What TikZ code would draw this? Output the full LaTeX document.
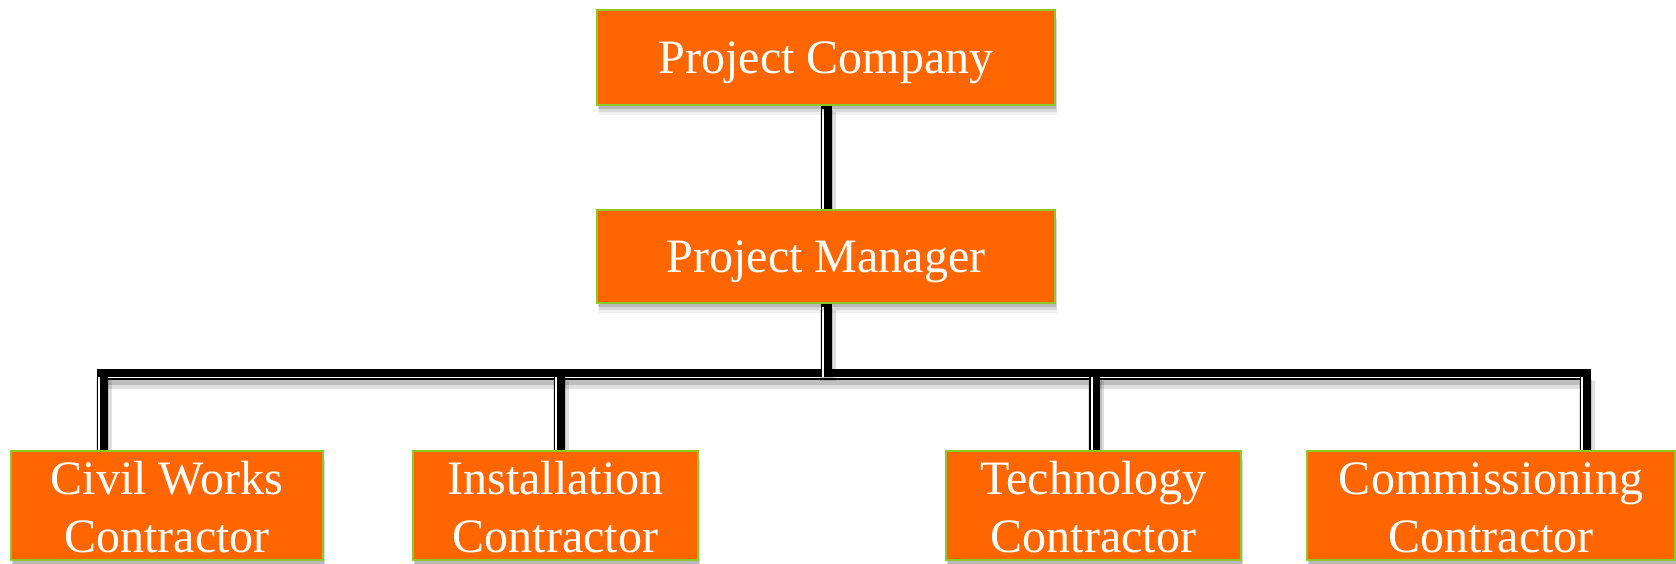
\documentclass[tikz,border=0pt]{standalone}
\usepackage{fontspec}
\setmainfont{Liberation Serif}
\usetikzlibrary{shadows}
\pgfdeclarelayer{bg}
\pgfsetlayers{bg,main}
\definecolor{boxorange}{RGB}{255,102,0}
\definecolor{boxgreen}{RGB}{140,200,40}
\begin{document}
\begin{tikzpicture}[x=0.5pt,y=-0.5pt,
  orgbox/.style={draw=boxgreen, line width=1pt, fill=boxorange, text=white,
    inner sep=0pt, font=\fontsize{24}{29}\selectfont, align=center,
    drop shadow={shadow xshift=0.8pt, shadow yshift=-5pt, opacity=0.06, fill=black},
    drop shadow={shadow xshift=0.8pt, shadow yshift=-3.5pt, opacity=0.1, fill=black},
    drop shadow={shadow xshift=0.6pt, shadow yshift=-2pt, opacity=0.15, fill=black}},
  lowbox/.style={orgbox, minimum height=54.5pt, text height=46.5pt, text depth=0pt},
  conn/.style={line width=5.5pt, draw=black,
    preaction={draw=black, opacity=0.12, line width=8pt, transform canvas={xshift=0.8pt, yshift=-3pt}},
    preaction={draw=black, opacity=0.15, line width=6pt, transform canvas={xshift=0.6pt, yshift=-2pt}},
    postaction={draw=white, line width=0.8pt, transform canvas={xshift=-1.4pt, yshift=-1.4pt}}}
]
\useasboundingbox (0,0) rectangle (1676,563);

\node[orgbox, minimum width=229pt, minimum height=47.5pt, text depth=0pt] (pc) at (826,57.5) {Project Company};
\node[orgbox, minimum width=229pt, minimum height=46.5pt, text depth=0pt] (pm) at (826,256.5) {Project Manager};

\node[lowbox, minimum width=156pt] (civ) at (167,505.5) {Civil Works\\Contractor};
\node[lowbox, minimum width=142.5pt] (ins) at (555.5,505.5) {Installation\\Contractor};
\node[lowbox, minimum width=147.5pt] (tec) at (1093.5,505.5) {Technology\\Contractor};
\node[lowbox, minimum width=184pt] (com) at (1491,505.5) {Commissioning\\Contractor};

\coordinate (bL) at (102,374.5);
\coordinate (bI) at (559,374.5);
\coordinate (bM) at (826,374.5);
\coordinate (bT) at (1094.5,374.5);
\coordinate (bR) at (1585,374.5);

\begin{pgfonlayer}{bg}
\draw[conn] (pc.south) -- (pm.north);
\draw[conn, line cap=rect] (bL) -- (bR);
\draw[conn] (pm.south) -- (bM);
\draw[conn] (bL) -- (bL |- civ.north);
\draw[conn] (bI) -- (bI |- ins.north);
\draw[conn] (bT) -- (bT |- tec.north);
\draw[conn] (bR) -- (bR |- com.north);
\end{pgfonlayer}
\end{tikzpicture}
\end{document}
